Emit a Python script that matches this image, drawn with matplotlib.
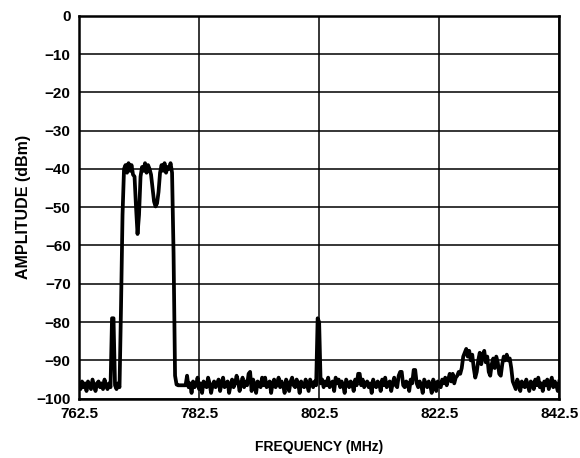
import numpy as np
import matplotlib
matplotlib.use('Agg')
import matplotlib.pyplot as plt

plt.rcParams['font.family'] = ['Liberation Sans', 'DejaVu Sans']
plt.rcParams['font.weight'] = 'bold'

# sweep sample spacing (MHz)
STEP = 0.25

# 762.5 .. 780.25 MHz: floor, spur at 768, the 3-carrier block, fall-off
low_start = 762.5
low_amp = [-96, -97.5, -95.5, -97, -96, -98, -95.5, -96.5, -97.5, -95,
           -96.5, -98, -96, -95.5, -97, -96, -97.5, -95, -96.5, -97.5,
           -96, -97, -79, -79, -96.5, -97.5, -96, -97, -76, -52,
           -40, -39, -41, -38.5, -40.5, -39, -41.5, -42, -50, -57,
           -52, -42, -39.5, -40.5, -38.5, -41, -39, -40, -41.5, -45,
           -48.5, -49.8, -49, -46, -41, -39, -40.5, -38.5, -41, -39.5,
           -40, -38.5, -41, -62, -94, -96.3, -96.5, -96.5, -96.5, -96.5,
           -96.5, -96.5]

# 780.5 .. 825.25 MHz: noise floor with spur at 802.5
mid_start = 780.5
mid_amp = [-94, -97, -96, -98.5, -95.5, -97, -96.5, -94.5, -97.5, -96,
           -98.5, -95.5, -96.5, -97, -94.5, -96, -98.5, -96.5, -95.5, -97,
           -96, -95, -98, -96, -94.5, -97, -96, -95.5, -98.5, -96.5,
           -95, -97, -96, -94, -95.5, -98, -96, -94.5, -97, -95.5,
           -96.5, -93.5, -93, -98, -95, -96.5, -98.5, -95.5, -96, -97,
           -94.5, -96.5, -94.5, -97, -96, -95.5, -98.5, -96, -95, -97,
           -96, -94.5, -97, -95.5, -96.5, -98.5, -95, -96, -98, -95.5,
           -94.5, -96.5, -97, -95, -96, -98.5, -95.5, -96.5, -97, -95,
           -96.5, -98, -95, -96, -97, -95.5, -96.5, -79, -80, -96,
           -95, -97, -95.5, -96.5, -94.5, -97, -96, -95.5, -98, -94.5,
           -96, -95, -97, -95.5, -96.5, -98.5, -95, -96, -97, -95.5,
           -96, -98, -95, -96.5, -93.5, -93.5, -96.5, -95, -97, -96,
           -95.5, -97, -96, -98.5, -95, -96.5, -97, -95.5, -96, -98,
           -95, -96.5, -94.5, -97, -96, -95.5, -98, -96, -94.5, -96.5,
           -97, -94, -93, -93, -96.5, -97, -95.5, -96, -98, -95,
           -96, -92.5, -92.5, -96, -97, -95.5, -96.5, -98.5, -95, -96,
           -97, -95.5, -96.5, -98.5, -95, -96, -98, -95.5, -96.5, -97,
           -95, -96, -94.5, -96.5, -95, -93.5, -95.5, -93.5, -96, -94.5]

# 825.5 .. 834.75 MHz: adjacent band signal
band_start = 825.5
band_amp = [-94, -93, -93.5, -92, -89, -88, -87, -89, -87.5, -90,
            -88.5, -92, -94.5, -93, -90, -88, -91, -88.5, -87.5, -90.5,
            -89, -93, -94, -91, -89.5, -92, -89, -90.5, -93.5, -94,
            -91, -89, -90, -88.5, -90, -89.5, -92, -95.5]

# 835 .. 842.5 MHz: noise floor
high_start = 835.0
high_amp = [-96.5, -97.5, -95, -96, -98, -95.5, -96.5, -97, -95, -96.5,
            -98, -95.5, -96, -97.5, -95, -96.5, -94.5, -97, -96, -98,
            -95.5, -96.5, -95, -97.5, -96, -94.5, -97, -95.5, -96.5, -98,
            -95.5]

x_ticks = [762.5, 782.5, 802.5, 822.5, 842.5]
x_labels = ['762.5', '782.5', '802.5', '822.5', '842.5']
y_ticks = [0, -10, -20, -30, -40, -50, -60, -70, -80, -90, -100]
y_labels = ['0', '\u221210', '\u221220', '\u221230', '\u221240', '\u221250',
            '\u221260', '\u221270', '\u221280', '\u221290', '\u2212100']

freq = []
amp = []
for start, vals in [(low_start, low_amp), (mid_start, mid_amp),
                    (band_start, band_amp), (high_start, high_amp)]:
    freq += [start + STEP * k for k in range(len(vals))]
    amp += vals

fig = plt.figure(figsize=(5.8, 4.58), dpi=100)
ax = fig.add_axes([0.1362, 0.1295, 0.8281, 0.8362])

ax.plot(freq, amp, color='black', lw=2.7, solid_joinstyle='round')

ax.set_xlim(762.5, 842.5)
ax.set_ylim(-100, 0)
ax.set_xticks(x_ticks)
ax.set_xticklabels(x_labels, fontsize=11, fontweight='bold')
ax.set_yticks(y_ticks)
ax.set_yticklabels(y_labels, fontsize=11, fontweight='bold')
ax.tick_params(length=0, pad=6)
ax.grid(True, color='black', lw=1.1)
ax.set_axisbelow(True)
for s in ax.spines.values():
    s.set_linewidth(1.8)

ax.set_xlabel('FREQUENCY (MHz)', fontsize=10, fontweight='bold', labelpad=14)
ax.set_ylabel('AMPLITUDE (dBm)', fontsize=11.5, fontweight='bold', labelpad=4)

fig.savefig('out.png', dpi=100)
